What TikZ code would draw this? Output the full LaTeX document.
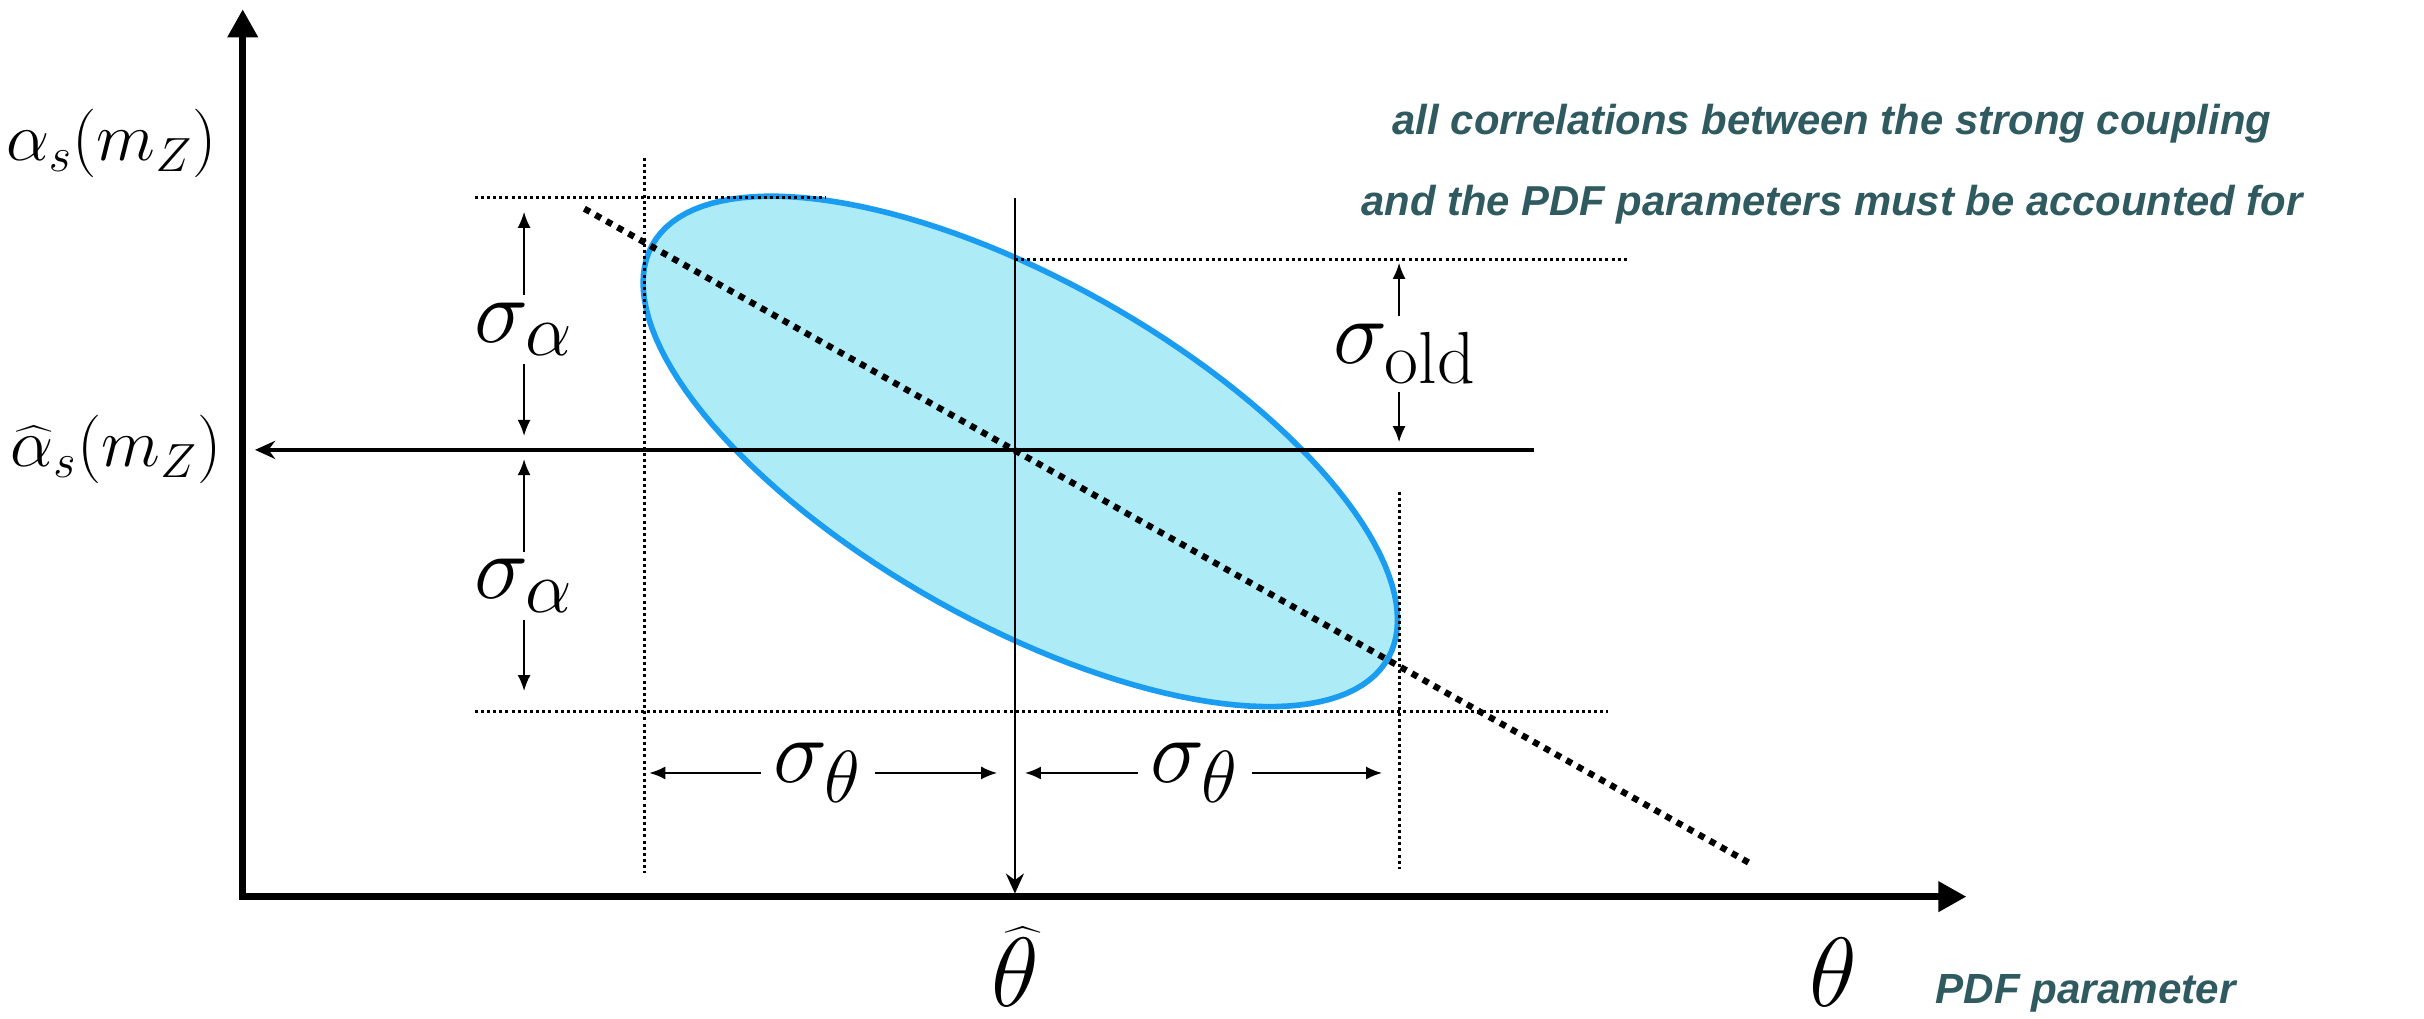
\RequirePackage{fix-cm}
\documentclass[tikz,border=0pt]{standalone}
\usepackage{fontspec}
\setsansfont{Liberation Sans}
\usetikzlibrary{arrows.meta,positioning}
\DeclareMathSizes{26}{26}{21}{16}
\definecolor{notecol}{HTML}{2F5A60}
\definecolor{ellfill}{HTML}{ADEBF6}
\definecolor{elldraw}{HTML}{1A9CF0}
\tikzset{
    axisline/.style={line width=1.9pt,
        {Triangle[length=2.8mm,width=2.9mm]}-{Triangle[length=2.8mm,width=2.9mm]}},
    crossline/.style={-{Stealth[length=2mm,width=1.8mm]}},
    guide/.style={line width=0.85pt, dash pattern=on 0.85pt off 0.9pt},
    corrline/.style={line width=1.8pt, dash pattern=on 1.8pt off 1.8pt},
    confell/.style={draw=elldraw, fill=ellfill, line width=1.6pt},
    dimarrow/.style={line width=0.55pt, -{Latex[length=1.6mm,width=1.3mm]}},
    siglab/.style={inner xsep=3.5pt, inner ysep=2pt, font=\fontsize{26}{30}\selectfont},
    axlab/.style={inner sep=0pt, font=\fontsize{19.5}{23}\selectfont},
    notetext/.style={inner sep=0pt, text=notecol,
        font=\sffamily\bfseries\itshape\fontsize{11.9}{15}\selectfont}
}

\begin{document}
\begin{tikzpicture}[x=0.01546cm, y=-0.01546cm]
\useasboundingbox (0,0) rectangle (1568,659);

% axes
\coordinate (origin) at (157,580);
\coordinate (ytip) at (157,6);
\coordinate (xtip) at (1272,580);

% confidence ellipse
\draw[confell] plot[domain=0:360, samples=145, variable=\t]
    ({660+244*cos(\t)}, {292+109*cos(\t)+124*sin(\t)}) -- cycle;

% dotted guides
\draw[guide] (307,128) -- (534,128);
\draw[guide] (656.5,168) -- (1053,168);
\draw[guide] (307,460) -- (1040,460);
\draw[guide] (417,102) -- (417,565);
\draw[guide] (905,318) -- (905,562);
\draw[corrline] (378,135) -- (1133,559);

% best fit lines
\coordinate (hright) at (992,291);
\coordinate (htip) at (165,291);
\coordinate (vtop) at (656.5,128);
\coordinate (vtip) at (656.5,578);
\draw[crossline, line width=1.2pt] (hright) -- (htip);
\draw[crossline, line width=0.8pt] (vtop) -- (vtip);

\draw[axisline] (ytip) -- (origin) -- (xtip);

% axis labels
\node[axlab, anchor=base east] (alpha) at (141,104) {$\alpha_s(m_Z)$};
\node[axlab, anchor=base east] (alphahat) at (144,302) {$\widehat{\alpha}_s(m_Z)$};
\node[inner sep=0pt, font=\fontsize{28}{32}\selectfont, anchor=base] (thetahat) at (656.5,651) {$\widehat{\theta}$};
\node[inner sep=0pt, font=\fontsize{28}{32}\selectfont, anchor=base] (theta) at (1186,651) {$\theta$};

% sigma_alpha
\coordinate (satop) at (339,137);
\coordinate (sabot) at (339,447);
\node[siglab] (sa1) at (339,213) {$\sigma_\alpha$};
\node[siglab] (sa2) at (339,379) {$\sigma_\alpha$};
\draw[dimarrow] (sa1) -- (satop);
\draw[dimarrow] (sa1) -- (sa1 |- 0,282);
\draw[dimarrow] (sa2) -- (sa2 |- 0,297);
\draw[dimarrow] (sa2) -- (sabot);

% sigma_theta
\coordinate (stleft) at (420,498);
\coordinate (stmid1) at (645,498);
\coordinate (stmid2) at (663,498);
\coordinate (stright) at (894,498);
\node[siglab] (st1) at (529,500) {$\sigma_\theta$};
\node[siglab] (st2) at (773,500) {$\sigma_\theta$};
\draw[dimarrow] (st1.west) -- (st1.west -| stleft);
\draw[dimarrow] (st1.east) -- (st1.east -| stmid1);
\draw[dimarrow] (st2.west) -- (st2.west -| stmid2);
\draw[dimarrow] (st2.east) -- (st2.east -| stright);

% sigma_old
\coordinate (oldtop) at (905,170);
\coordinate (oldbot) at (905,286);
\node[siglab] (sold) at (909,229) {$\sigma_{\mathrm{old}}$};
\draw[dimarrow] (sold.north -| oldtop) -- (oldtop);
\draw[dimarrow] (sold.south -| oldbot) -- (oldbot);

% notes
\node[notetext, anchor=base] (note1) at (1185,87) {all correlations between the strong coupling};
\node[notetext, below=11.5pt of note1] (note2) {and the PDF parameters must be accounted for};
\node[notetext, anchor=base, font=\sffamily\bfseries\itshape\fontsize{12}{15}\selectfont] (pdfpar) at (1349,649) {PDF parameter};
\end{tikzpicture}
\end{document}
